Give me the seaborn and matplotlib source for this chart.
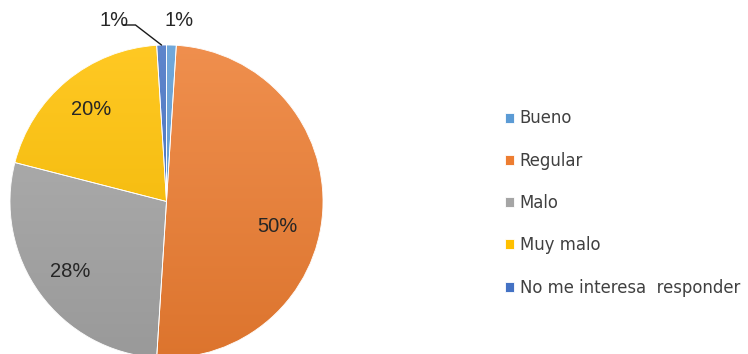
import numpy as np
import matplotlib
matplotlib.use("Agg")
import matplotlib.pyplot as plt
import matplotlib.colors as mcolors
from matplotlib.patches import Wedge
import seaborn as sns

# Survey answers and their shares (%)
categories = ["Bueno", "Regular", "Malo", "Muy malo", "No me interesa  responder"]
shares = [1, 50, 28, 20, 1]
colors = ["#5B9BD5", "#ED7D31", "#A5A5A5", "#FFC000", "#4472C4"]

sns.set_theme(style="white")
plt.rcParams["font.family"] = ["DejaVu Sans"]

W, H = 748, 354
fig = plt.figure(figsize=(W / 100, H / 100), dpi=100)
ax = fig.add_axes([0, 0, 1, 1])

cx, cy, r = 166.5, H - 201.5, 156.5

wedges, _, autotexts = ax.pie(
    shares, colors=colors, startangle=90, counterclock=False,
    center=(cx, cy), radius=r, autopct=lambda p: f"{p:.0f}%" if p >= 5 else "",
    pctdistance=0.76, frame=True,
    wedgeprops=dict(linewidth=0.6, edgecolor="white"),
    textprops=dict(family="Liberation Sans", fontsize=14.5, color="#262626"),
)

# Soft vertical shading over each slice (lighter at the top, darker below)
n = 256
t = np.linspace(0, 1, n)[:, None]
for w, c in zip(wedges, colors):
    base = np.array(mcolors.to_rgb(c))
    top = base + (1 - base) * 0.14
    bottom = base * 0.93
    grad = (top[None, :] * (1 - t) + bottom[None, :] * t)[:, None, :]
    im = ax.imshow(grad, extent=(cx - r, cx + r, cy - r, cy + r),
                   origin="upper", aspect="auto", zorder=w.get_zorder() + 0.1,
                   interpolation="bilinear")
    im.set_clip_path(w)
    ax.add_patch(Wedge((cx, cy), r, w.theta1, w.theta2, facecolor="none",
                       edgecolor="white", linewidth=0.6,
                       zorder=w.get_zorder() + 0.2))

for txt in autotexts:
    txt.set_zorder(5)

# The 50% label sits a little lower and further in than the slice midline
x50, y50 = autotexts[1].get_position()
autotexts[1].set_position((x50 - 8, y50 - 18))

# Outside labels for the two smallest slices
lab_font = dict(family="Liberation Sans", fontsize=14.5, color="#262626")
ax.text(cx + 13, cy + r + 24, f"{shares[0]}%", ha="center", va="center",
        zorder=6, **lab_font)

w_n = wedges[4]
ang_n = np.deg2rad((w_n.theta1 + w_n.theta2) / 2)
px, py = cx + r * np.cos(ang_n), cy + r * np.sin(ang_n)
tx, ty = cx - 52, cy + r + 24
ax.text(tx, ty, f"{shares[4]}%", ha="center", va="center", zorder=6, **lab_font)
ax.plot([tx + 9, tx + 21, px], [ty - 4, ty - 4, py], color="#1a1a1a",
        linewidth=1.0, zorder=6, solid_joinstyle="miter")

ax.set_xlim(0, W)
ax.set_ylim(0, H)
ax.set_aspect("equal")
ax.axis("off")

ax.legend(
    wedges, categories, loc="center left", bbox_to_anchor=(505 / W, 1 - 203 / H),
    bbox_transform=fig.transFigure, frameon=False, fontsize=11.9,
    labelspacing=1.47, handlelength=0.55, handleheight=0.55, handletextpad=0.33,
    borderpad=0, borderaxespad=0, labelcolor="#404040",
)

fig.savefig("out.png", dpi=100)
